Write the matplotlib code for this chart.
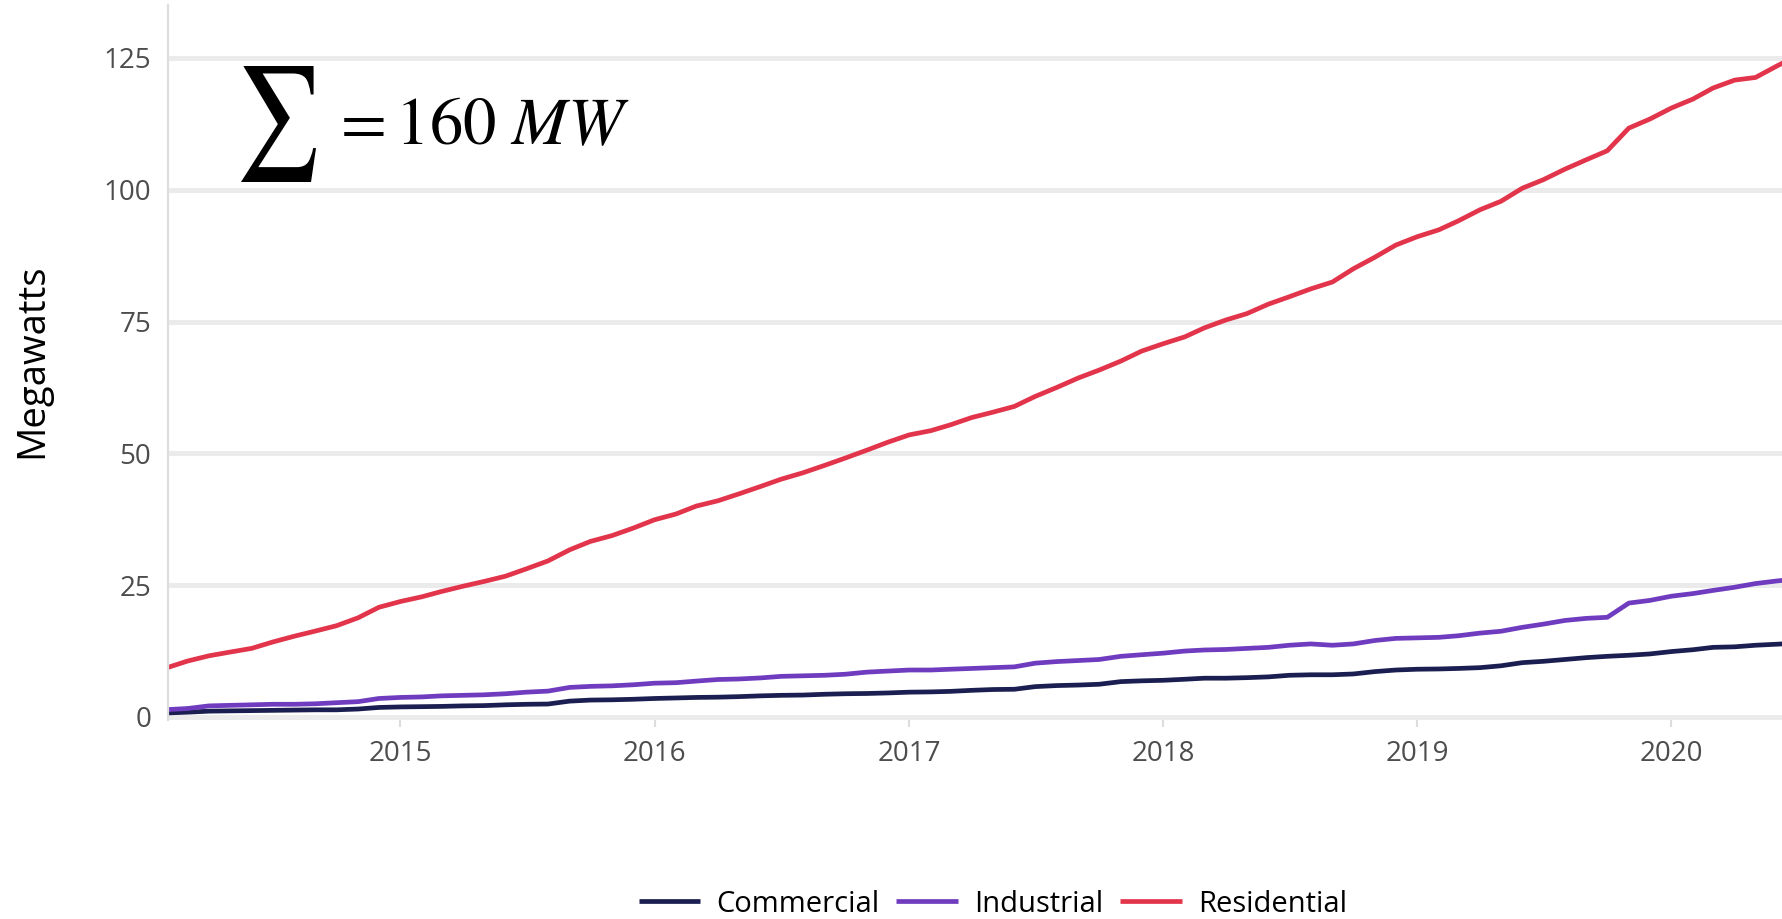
import pandas as pd
import matplotlib
matplotlib.use("Agg")
import matplotlib.pyplot as plt
import matplotlib.dates as mdates
from matplotlib.textpath import TextPath
from matplotlib.patches import PathPatch
from matplotlib.font_manager import FontProperties
from matplotlib.transforms import Affine2D

plt.rcParams['font.family'] = ['Open Sans', 'DejaVu Sans']
plt.rcParams['mathtext.fontset'] = 'stix'

# monthly installed capacity (MW), Feb 2014 onwards
months = pd.date_range("2014-02-01", periods=78, freq="MS")

residential = [
    9.4, 10.6, 11.6, 12.3, 13.0, 14.2, 15.3, 16.3, 17.3, 18.8,
    20.8, 21.9, 22.8, 23.8, 24.8, 25.7, 26.7, 28.1, 29.6, 31.7,
    33.3, 34.4, 35.8, 37.4, 38.5, 40.0, 41.0, 42.3, 43.7, 45.1,
    46.3, 47.7, 49.1, 50.6, 52.1, 53.5, 54.3, 55.4, 56.8, 57.8,
    58.9, 60.8, 62.5, 64.3, 65.8, 67.5, 69.4, 70.8, 72.1, 73.8,
    75.3, 76.5, 78.3, 79.7, 81.2, 82.5, 85.0, 87.2, 89.5, 91.1,
    92.4, 94.1, 96.2, 97.8, 100.3, 101.9, 103.9, 105.7, 107.4, 111.7,
    113.4, 115.5, 117.2, 119.3, 120.8, 121.3, 123.5, 125.5,
]
industrial = [
    1.4, 1.6, 2.1, 2.2, 2.3, 2.4, 2.4, 2.5, 2.7, 2.9,
    3.5, 3.7, 3.8, 4.0, 4.1, 4.2, 4.4, 4.7, 4.9, 5.6,
    5.8, 5.9, 6.1, 6.4, 6.5, 6.8, 7.1, 7.2, 7.4, 7.7,
    7.8, 7.9, 8.1, 8.5, 8.7, 8.9, 8.9, 9.05, 9.2, 9.35,
    9.5, 10.2, 10.5, 10.7, 10.9, 11.5, 11.8, 12.1, 12.5, 12.7,
    12.8, 13.0, 13.2, 13.6, 13.85, 13.6, 13.85, 14.5, 14.9, 15.0,
    15.1, 15.4, 15.9, 16.25, 17.0, 17.6, 18.3, 18.7, 18.9, 21.6,
    22.1, 22.9, 23.4, 24.0, 24.6, 25.3, 25.8, 26.2,
]
commercial = [
    0.76, 0.9, 1.1, 1.15, 1.2, 1.25, 1.3, 1.35, 1.35, 1.5,
    1.8, 1.9, 1.95, 2.0, 2.1, 2.15, 2.3, 2.4, 2.45, 3.0,
    3.2, 3.25, 3.35, 3.5, 3.6, 3.7, 3.75, 3.85, 4.0, 4.1,
    4.15, 4.3, 4.4, 4.45, 4.55, 4.7, 4.75, 4.85, 5.05, 5.2,
    5.25, 5.75, 5.95, 6.05, 6.2, 6.7, 6.85, 6.95, 7.15, 7.35,
    7.35, 7.45, 7.6, 7.9, 8.0, 8.0, 8.15, 8.6, 8.9, 9.05,
    9.1, 9.2, 9.35, 9.7, 10.3, 10.55, 10.9, 11.25, 11.5, 11.7,
    11.95, 12.4, 12.75, 13.2, 13.3, 13.6, 13.8, 14.0,
]

series = ["Commercial", "Industrial", "Residential"]
colors = ["#1b1e50", "#703cbf", "#e2344a"]
yticks = [0, 25, 50, 75, 100, 125]

W, H = 1782, 919
fig = plt.figure(figsize=(W / 100, H / 100), dpi=100)
ax = fig.add_axes([0.0943, 0.217, 0.9057, 0.7773])

for name, vals, c in zip(series, [commercial, industrial, residential], colors):
    ax.plot(months, vals, color=c, lw=3.4, label=name, solid_capstyle="butt")

ax.set_xlim(months[0], pd.Timestamp("2020-06-08"))
ax.set_ylim(-0.5, 135)
ax.set_yticks(yticks)
ax.xaxis.set_major_locator(mdates.YearLocator())
ax.xaxis.set_major_formatter(mdates.DateFormatter("%Y"))

ax.grid(axis="y", color="#ebebeb", lw=3.6)
ax.grid(axis="x", visible=False)
ax.set_axisbelow(True)
for s in ["top", "right", "bottom"]:
    ax.spines[s].set_visible(False)
ax.spines["left"].set_color("#dddddd")
ax.spines["left"].set_linewidth(1.6)

ax.tick_params(axis="y", length=0, pad=12, labelsize=20, labelcolor="#4d4d4d")
ax.tick_params(axis="x", length=5, width=1.5, color="#dddddd", pad=10,
               labelsize=20, labelcolor="#4d4d4d")

fig.text(32 / W, 1 - 361 / H, "Megawatts", rotation=90, ha="center",
         va="center", fontsize=27.5, color="black")

# total capacity note: a tall, narrow sigma, then the value
tp = TextPath((0, 0), r"$\sum$", size=1, prop=FontProperties(math_fontfamily="stix"))
ext = tp.get_extents()
sig_w, sig_h = 75, 116          # target glyph box in pixels
sig_x, sig_bottom = 241, H - 182
tr = (Affine2D().translate(-ext.x0, -ext.y0)
      .scale(sig_w / ext.width / W, sig_h / ext.height / H)
      .translate(sig_x / W, sig_bottom / H) + fig.transFigure)
fig.add_artist(PathPatch(tp, transform=tr, facecolor="black", lw=0))

fig.text(331 / W, 1 - 144 / H, r"$=160\ MW$", fontsize=48,
         ha="left", va="baseline", color="black")

fig.legend(loc="center", bbox_to_anchor=(0.557, 1 - 904 / H), ncol=3,
           frameon=False, fontsize=21, handlelength=2.1, handletextpad=0.55,
           columnspacing=0.6)

fig.savefig("out.png", dpi=100)
